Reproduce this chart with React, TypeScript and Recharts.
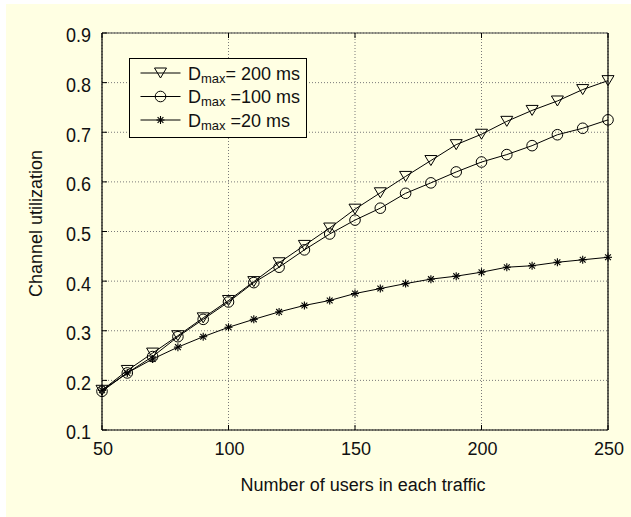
import React from 'react';
import { LineChart, Line, XAxis, YAxis, CartesianGrid, Legend } from 'recharts';

const users = [50, 60, 70, 80, 90, 100, 110, 120, 130, 140, 150, 160, 170, 180, 190, 200, 210, 220, 230, 240, 250];
const dmax200 = [0.18, 0.22, 0.255, 0.29, 0.326, 0.361, 0.399, 0.437, 0.472, 0.507, 0.545, 0.578, 0.611, 0.643, 0.675, 0.696, 0.722, 0.744, 0.763, 0.786, 0.804];
const dmax100 = [0.178, 0.215, 0.248, 0.288, 0.323, 0.358, 0.397, 0.428, 0.463, 0.495, 0.523, 0.547, 0.577, 0.598, 0.62, 0.64, 0.655, 0.673, 0.695, 0.708, 0.725];
const dmax20 = [0.18, 0.215, 0.243, 0.267, 0.288, 0.307, 0.323, 0.338, 0.351, 0.361, 0.375, 0.385, 0.395, 0.404, 0.41, 0.418, 0.428, 0.431, 0.438, 0.443, 0.448];
const xTicks = [50, 100, 150, 200, 250];
const yTicks = [0.1, 0.2, 0.3, 0.4, 0.5, 0.6, 0.7, 0.8, 0.9];
const legendRows = [
  { key: 'd200', main: 'D', sub: 'max', rest: '= 200 ms', marker: 'tri' },
  { key: 'd100', main: 'D', sub: 'max', rest: ' =100 ms', marker: 'circ' },
  { key: 'd20', main: 'D', sub: 'max', rest: ' =20 ms', marker: 'star' },
];

const data = users.map((u, i) => ({ u, d200: dmax200[i], d100: dmax100[i], d20: dmax20[i] }));

const BG = '#FFFFE3';
const FONT = '"Liberation Sans", Arial, sans-serif';

function Marker({ type, cx, cy }: { type: string; cx: number; cy: number }) {
  if (type === 'tri') {
    const w = 6, h = 5;
    return <path d={`M${cx - w},${cy - h}L${cx + w},${cy - h}L${cx},${cy + h}Z`} fill="none" stroke="#000" strokeWidth={1} />;
  }
  if (type === 'circ') {
    return <circle cx={cx} cy={cy} r={5.3} fill="none" stroke="#000" strokeWidth={1} />;
  }
  const r = 4, d = 2.9;
  return (
    <g stroke="#000" strokeWidth={1.1}>
      <line x1={cx - r} y1={cy} x2={cx + r} y2={cy} />
      <line x1={cx} y1={cy - r} x2={cx} y2={cy + r} />
      <line x1={cx - d} y1={cy - d} x2={cx + d} y2={cy + d} />
      <line x1={cx - d} y1={cy + d} x2={cx + d} y2={cy - d} />
    </g>
  );
}

const makeDot = (type: string) => (props: any) => {
  const { cx, cy, index } = props;
  if (cx == null || cy == null) return <g key={`${type}-${index}`} />;
  return (
    <g key={`${type}-${index}`}>
      <Marker type={type} cx={cx} cy={cy} />
    </g>
  );
};

const BottomTick = (props: any) => {
  const { x, y, payload } = props;
  return (
    <g>
      <line x1={x} y1={y} x2={x} y2={y - 5} stroke="#000" />
      <text x={x + 1} y={y + 25} textAnchor="middle" fontSize={18} fontFamily={FONT} fill="#111">
        {payload.value}
      </text>
    </g>
  );
};

const LeftTick = (props: any) => {
  const { x, y, payload } = props;
  return (
    <g>
      <line x1={x} y1={y} x2={x + 5} y2={y} stroke="#000" />
      <g transform={`translate(${x - 11},${y}) scale(1,1.15)`}>
        <text x={0} y={8.2} textAnchor="end" fontSize={18} fontFamily={FONT} fill="#111">
          {Number(payload.value).toFixed(1)}
        </text>
      </g>
    </g>
  );
};

const TopTick = (props: any) => {
  const { x, y } = props;
  return <line x1={x} y1={y} x2={x} y2={y + 5} stroke="#000" />;
};

const RightTick = (props: any) => {
  const { x, y } = props;
  return <line x1={x} y1={y} x2={x - 5} y2={y} stroke="#000" />;
};

const XLabel = (props: any) => {
  const vb = props.viewBox || { x: 102, y: 430, width: 506, height: 87 };
  const x = vb.x + vb.width / 2 + 8;
  const y = vb.y + 61;
  return (
    <text x={x} y={y} textAnchor="middle" fontSize={18} fontFamily={FONT} fill="#111">
      Number of users in each traffic
    </text>
  );
};

const YLabel = (props: any) => {
  const vb = props.viewBox || { x: 0, y: 33, width: 102, height: 397 };
  const cx = 36;
  const cy = vb.y + vb.height / 2 - 8;
  return (
    <text x={cx} y={cy} transform={`rotate(-90 ${cx} ${cy})`} textAnchor="middle" dominantBaseline="central" fontSize={18} fontFamily={FONT} fill="#111">
      Channel utilization
    </text>
  );
};

const LegendBox = () => (
  <svg width={179} height={81} style={{ display: 'block' }}>
    <rect x={0.5} y={0.5} width={177} height={79} fill={BG} stroke="#000" strokeWidth={1} />
    {legendRows.map((r, i) => {
      const cy = 15 + i * 23.5;
      return (
        <g key={r.key}>
          <line x1={11.5} y1={cy} x2={51.5} y2={cy} stroke="#000" strokeWidth={1} />
          <Marker type={r.marker} cx={31.5} cy={cy} />
          <text x={59} y={cy + 6.5} fontSize={18} fontFamily={FONT} fill="#111">
            {r.main}
            <tspan fontSize={13} dy={3.4}>{r.sub}</tspan>
            <tspan dy={-3.4} style={{ whiteSpace: 'pre' }}>{r.rest}</tspan>
          </text>
        </g>
      );
    })}
  </svg>
);

export default function App() {
  return (
    <div style={{ position: 'absolute', left: 0, top: 0, width: 631, height: 517, background: '#fff', overflow: 'hidden' }}>
      <div style={{ position: 'absolute', left: 6, top: 4, width: 625, height: 513, background: BG }} />
      <div style={{ position: 'absolute', left: 0, top: 0 }}>
        <LineChart width={631} height={517} data={data} margin={{ top: 32, right: 0, bottom: 0, left: 0 }}>
          <CartesianGrid stroke="#7a7a7a" strokeDasharray="1 2" xAxisId="bottom" yAxisId="left" />
          <XAxis
            xAxisId="bottom"
            dataKey="u"
            type="number"
            domain={[50, 250]}
            ticks={xTicks}
            height={87}
            tickSize={0}
            tickMargin={0}
            tick={BottomTick}
            axisLine={{ stroke: '#000', strokeWidth: 1.2 }}
            label={<XLabel />}
            interval={0}
          />
          <XAxis
            xAxisId="top"
            orientation="top"
            dataKey="u"
            type="number"
            domain={[50, 250]}
            ticks={xTicks}
            height={1}
            tickSize={0}
            tickMargin={0}
            tick={TopTick}
            axisLine={{ stroke: '#444', strokeWidth: 1.2 }}
            interval={0}
          />
          <YAxis
            yAxisId="left"
            type="number"
            domain={[0.1, 0.9]}
            ticks={yTicks}
            width={102}
            tickSize={0}
            tickMargin={0}
            tick={LeftTick}
            axisLine={{ stroke: '#000', strokeWidth: 1.2 }}
            label={<YLabel />}
            interval={0}
          />
          <YAxis
            yAxisId="right"
            orientation="right"
            type="number"
            domain={[0.1, 0.9]}
            ticks={yTicks}
            width={23}
            tickSize={0}
            tickMargin={0}
            tick={RightTick}
            axisLine={{ stroke: '#000', strokeWidth: 1.2 }}
            interval={0}
          />
          <Line xAxisId="bottom" yAxisId="left" type="linear" dataKey="d200" stroke="#000" strokeWidth={1} dot={makeDot('tri')} isAnimationActive={false} />
          <Line xAxisId="bottom" yAxisId="left" type="linear" dataKey="d100" stroke="#000" strokeWidth={1} dot={makeDot('circ')} isAnimationActive={false} />
          <Line xAxisId="bottom" yAxisId="left" type="linear" dataKey="d20" stroke="#000" strokeWidth={1} dot={makeDot('star')} isAnimationActive={false} />
          <Legend
            layout="vertical"
            align="center"
            verticalAlign="middle"
            content={<LegendBox />}
            wrapperStyle={{ position: 'absolute', left: 129, top: 58, width: 179, height: 81 }}
          />
        </LineChart>
      </div>
    </div>
  );
}
